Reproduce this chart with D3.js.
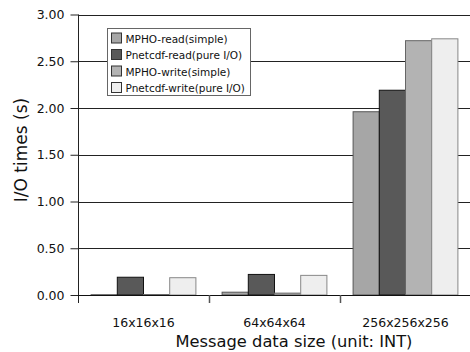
<!DOCTYPE html>
<html><head><meta charset="utf-8">
<script src="https://cdn.jsdelivr.net/npm/d3@7/dist/d3.min.js"></script>
<style>body{margin:0;background:#fff}svg{display:block}text{font-family:"DejaVu Sans",sans-serif}</style>
</head><body><svg id="c" width="470" height="352"></svg>
<script>
const categories = ["16x16x16", "64x64x64", "256x256x256"];
const seriesNames = ["MPHO-read(simple)", "Pnetcdf-read(pure I/O)", "MPHO-write(simple)", "Pnetcdf-write(pure I/O)"];
const mphoRead = [0.003, 0.03, 1.96];
const pnetcdfRead = [0.19, 0.22, 2.19];
const mphoWrite = [0.005, 0.02, 2.72];
const pnetcdfWrite = [0.185, 0.21, 2.74];
const yTicks = [0, 0.5, 1.0, 1.5, 2.0, 2.5, 3.0];
const fills = ["#a6a6a6", "#595959", "#b3b3b3", "#eeeeee"];
const strokes = ["#555", "#111", "#666", "#888"];

const series = [mphoRead, pnetcdfRead, mphoWrite, pnetcdfWrite];
const svg = d3.select("#c");
const m = {l: 78, t: 14.5, r: 471, b: 295};
const x0 = d3.scaleBand().domain(categories).range([m.l, m.r]).paddingInner(0).paddingOuter(0);
const x1 = d3.scaleBand().domain(d3.range(4)).range([0, x0.bandwidth()]).paddingOuter(0.5).paddingInner(0);
const y = d3.scaleLinear().domain([0, 3]).range([m.b, m.t]);

// gridlines
svg.append("g").selectAll("line").data(yTicks.filter(d => d > 0)).join("line")
  .attr("x1", m.l).attr("x2", 470).attr("y1", d => Math.round(y(d)) + 0.5).attr("y2", d => Math.round(y(d)) + 0.5)
  .attr("stroke", "#222").attr("stroke-width", 1);

// bars
const g = svg.append("g");
categories.forEach((c, ci) => {
  series.forEach((s, si) => {
    const v = s[ci];
    g.append("rect")
      .attr("x", x0(c) + x1(si)).attr("width", x1.bandwidth())
      .attr("y", y(v)).attr("height", Math.max(0, y(0) - y(v)))
      .attr("fill", fills[si]).attr("stroke", strokes[si]).attr("stroke-width", 1);
  });
});

// y axis
const ya = svg.append("g").attr("transform", `translate(${m.l + 0.5},0)`)
  .call(d3.axisLeft(y).tickValues(yTicks).tickFormat(d3.format(".2f")).tickSize(8).tickSizeOuter(0));
ya.select(".domain").remove();
ya.selectAll("line").attr("stroke", "#222");
ya.selectAll("text").attr("font-size", 12.5).attr("fill", "#111").attr("dx", -3);
svg.append("line").attr("x1", m.l + 0.5).attr("x2", m.l + 0.5).attr("y1", m.t).attr("y2", 303).attr("stroke", "#222");

// x axis
svg.append("line").attr("x1", m.l).attr("x2", 470).attr("y1", m.b + 0.5).attr("y2", m.b + 0.5).attr("stroke", "#111");
const xa = svg.append("g").attr("transform", `translate(0,${m.b})`)
  .call(d3.axisBottom(x0).tickSize(0).tickPadding(23));
xa.select(".domain").remove();
xa.selectAll("text").attr("font-size", 12.5).attr("fill", "#111");
svg.append("g").selectAll("line").data(categories.slice(1)).join("line")
  .attr("x1", d => Math.round(x0(d)) + 0.5).attr("x2", d => Math.round(x0(d)) + 0.5)
  .attr("y1", m.b).attr("y2", 303).attr("stroke", "#555").attr("stroke-width", 1.5);

// axis titles
svg.append("text").attr("x", 294).attr("y", 347).attr("text-anchor", "middle")
  .attr("font-size", 16.3).attr("fill", "#111").text("Message data size (unit: INT)");
svg.append("text").attr("transform", "translate(27,150) rotate(-90)").attr("text-anchor", "middle")
  .attr("font-size", 17).attr("fill", "#111").text("I/O times (s)");

// legend
const lg = svg.append("g").attr("transform", "translate(107.5,28.5)");
lg.append("rect").attr("width", 143).attr("height", 67).attr("fill", "#fff").attr("stroke", "#666");
seriesNames.forEach((n, i) => {
  const yy = 4.5 + i * 16.5;
  lg.append("rect").attr("x", 4).attr("y", yy).attr("width", 10).attr("height", 10)
    .attr("fill", fills[i]).attr("stroke", "#333");
  lg.append("text").attr("x", 18).attr("y", yy + 9.5).attr("font-size", 10.5).attr("fill", "#111").text(n);
});
</script></body></html>
